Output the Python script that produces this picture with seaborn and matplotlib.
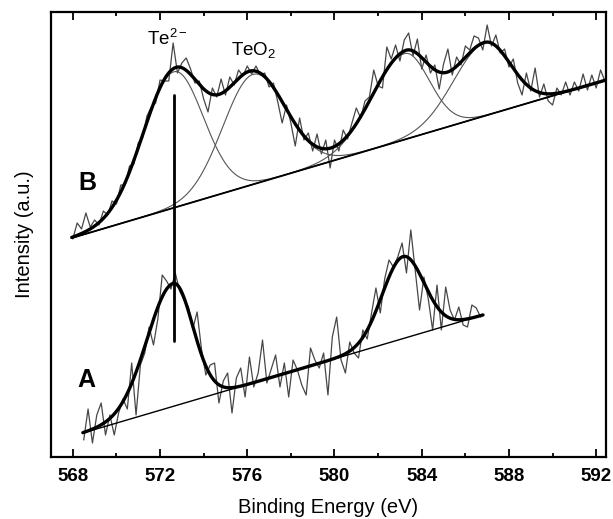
import numpy as np
import pandas as pd
import matplotlib
matplotlib.use("Agg")
import matplotlib.pyplot as plt
import seaborn as sns

# ---------------- data (intensity in arbitrary units) ----------------
# Spectrum B: raw counts, 0.2 eV steps from 568.0 to 592.4 eV
B_raw = [218, 234, 228, 244, 230, 237, 232, 246, 242, 256,
         253, 272, 272, 291, 293, 314, 319, 341, 350, 354,
         377, 376, 376, 414, 384, 394, 399, 388, 374, 376,
         358, 345, 369, 360, 378, 362, 380, 372, 387, 381,
         391, 383, 391, 382, 384, 370, 374, 355, 334, 352,
         334, 311, 339, 317, 324, 306, 323, 303, 317, 289,
         317, 306, 327, 318, 334, 349, 339, 356, 360, 387,
         371, 369, 410, 398, 412, 396, 417, 424, 401, 418,
         388, 402, 384, 392, 368, 393, 408, 382, 400, 392,
         411, 407, 421, 419, 407, 432, 411, 422, 404, 408,
         390, 398, 374, 362, 384, 366, 389, 360, 373, 356,
         352, 369, 362, 375, 362, 375, 366, 383, 367, 382,
         369, 387, 376]
B_range = [568.0, 592.4]

# Spectrum A: raw counts, 0.2 eV steps from 568.5 to 586.7 eV
A_raw = [17, 48, 14, 42, 54, 22, 42, 22, 44, 58,
         48, 94, 42, 92, 104, 130, 112, 138, 182, 176,
         168, 184, 166, 157, 150, 128, 145, 108, 82, 92,
         94, 54, 76, 84, 44, 79, 89, 60, 100, 70,
         84, 117, 74, 88, 102, 70, 94, 60, 97, 87,
         72, 62, 109, 97, 89, 104, 62, 120, 140, 97,
         84, 115, 104, 99, 127, 118, 144, 169, 144, 178,
         197, 190, 200, 214, 184, 227, 187, 147, 180, 158,
         127, 172, 127, 170, 147, 137, 150, 132, 130, 152,
         149, 140]
A_range = [568.5, 586.7]

# Linear backgrounds (end points: energy, intensity)
B_base_E = [567.95, 592.45]
B_base_I = [219, 377]
A_base_E = [568.46, 586.81]
A_base_I = [24, 142]

# Fitted peak components (centre eV, height, sigma low-E side, sigma high-E side)
B_centers = [572.63, 576.26, 583.2, 586.9]
B_heights = [136, 110, 86, 73]
B_sig_lo = [1.42, 1.38, 1.5, 1.44]
B_sig_hi = [1.35, 1.5, 1.14, 1.16]

A_centers = [572.6, 583.14]
A_heights = [123, 82]
A_sig_lo = [1.2, 0.96]
A_sig_hi = [0.9, 0.96]

# Te2- marker line
marker_E = 572.63
marker_I = [116, 362]

x_ticks = [568, 572, 576, 580, 584, 588, 592]
x_minor = [570, 574, 578, 582, 586, 590]


def peak(E, c, h, sl, sr):
    s = np.where(E < c, sl, sr)
    return h * np.exp(-0.5 * ((E - c) / s) ** 2)


def baseline(E, be, bi):
    return np.interp(E, be, bi)


# ---------------- style ----------------
sns.set_style("ticks")
plt.rcParams["font.family"] = ["Liberation Sans", "DejaVu Sans"]
plt.rcParams["mathtext.fontset"] = "custom"
plt.rcParams["mathtext.rm"] = "Liberation Sans"
plt.rcParams["mathtext.it"] = "Liberation Sans"
plt.rcParams["text.color"] = "black"
plt.rcParams["axes.labelcolor"] = "black"
plt.rcParams["xtick.color"] = "black"
plt.rcParams["ytick.color"] = "black"

fig = plt.figure(figsize=(6.13, 5.19), dpi=100)
ax = fig.add_axes([51 / 613, 1 - 457 / 519, (606 - 51) / 613, (457 - 12) / 519])

raw_col = "#474747"
comp_col = "#555555"

# raw data
B_E = np.linspace(B_range[0], B_range[1], len(B_raw))
A_E = np.linspace(A_range[0], A_range[1], len(A_raw))
sns.lineplot(x=B_E, y=B_raw, ax=ax, color=raw_col, lw=0.9, sort=False, estimator=None)
sns.lineplot(x=A_E, y=A_raw, ax=ax, color=raw_col, lw=0.9, sort=False, estimator=None)

# B fit
Eb = np.linspace(B_base_E[0], B_base_E[1], 1200)
bb = baseline(Eb, B_base_E, B_base_I)
total_b = bb.copy()
for c, h, sl, sr in zip(B_centers, B_heights, B_sig_lo, B_sig_hi):
    comp = peak(Eb, c, h, sl, sr)
    total_b += comp
    sns.lineplot(x=Eb, y=bb + comp, ax=ax, color=comp_col, lw=0.8, sort=False, estimator=None)
sns.lineplot(x=B_base_E, y=B_base_I, ax=ax, color="black", lw=1.3, sort=False, estimator=None)
sns.lineplot(x=Eb, y=total_b, ax=ax, color="black", lw=2.4, sort=False, estimator=None)

# A fit
Ea = np.linspace(A_base_E[0], A_base_E[1], 1000)
ba = baseline(Ea, A_base_E, A_base_I)
total_a = ba.copy()
for c, h, sl, sr in zip(A_centers, A_heights, A_sig_lo, A_sig_hi):
    total_a += peak(Ea, c, h, sl, sr)
sns.lineplot(x=A_base_E, y=A_base_I, ax=ax, color="black", lw=1.0, sort=False, estimator=None)
sns.lineplot(x=Ea, y=total_a, ax=ax, color="black", lw=2.4, sort=False, estimator=None)

# marker line
ax.plot([marker_E, marker_E], marker_I, color="black", lw=2.0)

# labels
ax.text(572.35, 412, "Te$^{2-}$", fontsize=13.5, ha="center", va="baseline")
ax.text(576.28, 402, "TeO$_2$", fontsize=13.5, ha="center", va="baseline")
ax.text(568.67, 274, "B", fontsize=18, fontweight="bold", ha="center", va="center")
ax.text(568.6, 77, "A", fontsize=18, fontweight="bold", ha="center", va="center")

ax.set_xlim(567.0, 592.45)
ax.set_ylim(0, 445)
ax.set_xticks(x_ticks)
ax.set_xticks(x_minor, minor=True)
ax.set_xticklabels([str(t) for t in x_ticks], fontweight="bold", fontsize=13.5)
ax.set_yticks([])
ax.tick_params(axis="x", which="both", direction="in", top=True, bottom=True,
               width=1.3, color="black", pad=8)
ax.tick_params(axis="x", which="major", length=5.5)
ax.tick_params(axis="x", which="minor", length=3)
for sp in ax.spines.values():
    sp.set_visible(True)
    sp.set_linewidth(1.6)
    sp.set_color("black")

ax.set_xlabel("Binding Energy (eV)", fontsize=14.5, labelpad=9)
ax.set_ylabel("Intensity (a.u.)", fontsize=14.5, labelpad=12)

fig.savefig("out.png", dpi=100)
